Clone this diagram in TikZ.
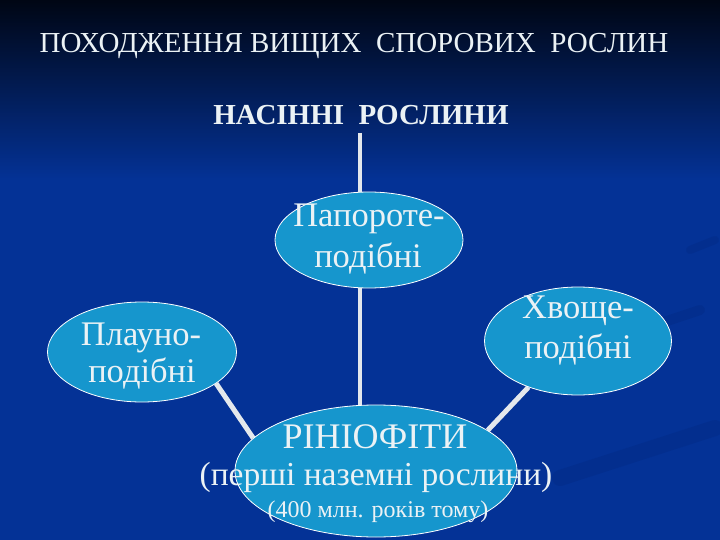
\documentclass[tikz,border=0pt]{standalone}
\usepackage{fontspec}
\setmainfont{Liberation Serif}
\usetikzlibrary{shapes.geometric}
\definecolor{bgblue}{RGB}{4,50,150}
\definecolor{bgtop}{RGB}{0,6,20}
\definecolor{ellfill}{RGB}{22,150,205}
\definecolor{txt}{RGB}{235,242,245}
\definecolor{connc}{RGB}{228,232,236}
\definecolor{decoc}{RGB}{0,30,110}
\pgfdeclarelayer{bg}
\pgfdeclarelayer{lines}
\pgfsetlayers{bg,lines,main}
\begin{document}
\begin{tikzpicture}[x=1pt,y=-1pt,
  oval/.style={ellipse, draw=white, line width=0.8pt, fill=ellfill, inner sep=0pt},
  ovaltext/.style={text=txt, inner sep=0pt, anchor=base, font=\fontsize{34.5}{40}\selectfont},
  connline/.style={draw=connc, line width=5pt},
  lbl/.style={text=txt, inner sep=0pt, anchor=base},
  deco/.style={draw=decoc, opacity=0.2, line cap=round}]
\useasboundingbox (0,0) rectangle (720,540);
\begin{pgfonlayer}{bg}
\fill[bgblue] (0,0) rectangle (720,540);
\shade[top color=bgtop, bottom color=bgblue] (0,0) rectangle (720,180);
\draw[deco, line width=16pt] (560,478) -- (715,428);
\draw[deco, line width=10pt] (640,330) -- (700,310);
\draw[deco, line width=8pt] (690,250) -- (715,240);
\end{pgfonlayer}

\node[lbl, font=\fontsize{29}{32}\selectfont] (title) at (354,53) {ПОХОДЖЕННЯ ВИЩИХ~~СПОРОВИХ~~РОСЛИН};
\node[lbl, font=\bfseries\fontsize{29}{32}\selectfont] (seed) at (361,125) {НАСІННІ~~РОСЛИНИ};

\node[oval, minimum width=188pt, minimum height=96pt] (fern) at (369,240) {};
\node[ovaltext] (fern1) at (369,226) {Папороте-};
\node[ovaltext] (fern2) at (368,267) {подібні};

\node[oval, minimum width=189pt, minimum height=100pt] (club) at (142,352) {};
\node[ovaltext] (club1) at (141,345) {Плауно-};
\node[ovaltext] (club2) at (142,382) {подібні};

\node[oval, minimum width=187pt, minimum height=108pt] (horse) at (578,341) {};
\node[ovaltext] (horse1) at (578,318) {Хвоще-};
\node[ovaltext] (horse2) at (578,358) {подібні};

\node[oval, minimum width=282pt, minimum height=132pt] (rhy) at (376,471) {};
\node[lbl, font=\fontsize{36}{36}\selectfont] (r1) at (375,448) {РІНІОФІТИ};
\node[lbl, font=\fontsize{33.5}{34}\selectfont] (r2) at (376,485) {(перші наземні рослини)};
\node[lbl, font=\fontsize{24}{24}\selectfont] (r3) at (378,517) {(400 млн. років тому)};

\coordinate (seedbot) at (360,133);
\begin{pgfonlayer}{lines}
\draw[connline, line width=4pt] (seedbot) -- (seedbot |- fern.center);
\draw[connline, line width=4pt] (seedbot |- fern.center) -- (seedbot |- rhy.center);
\draw[connline] (club.-23) -- (rhy.165);
\draw[connline] (horse.223) -- (rhy.20);
\end{pgfonlayer}
\end{tikzpicture}
\end{document}
